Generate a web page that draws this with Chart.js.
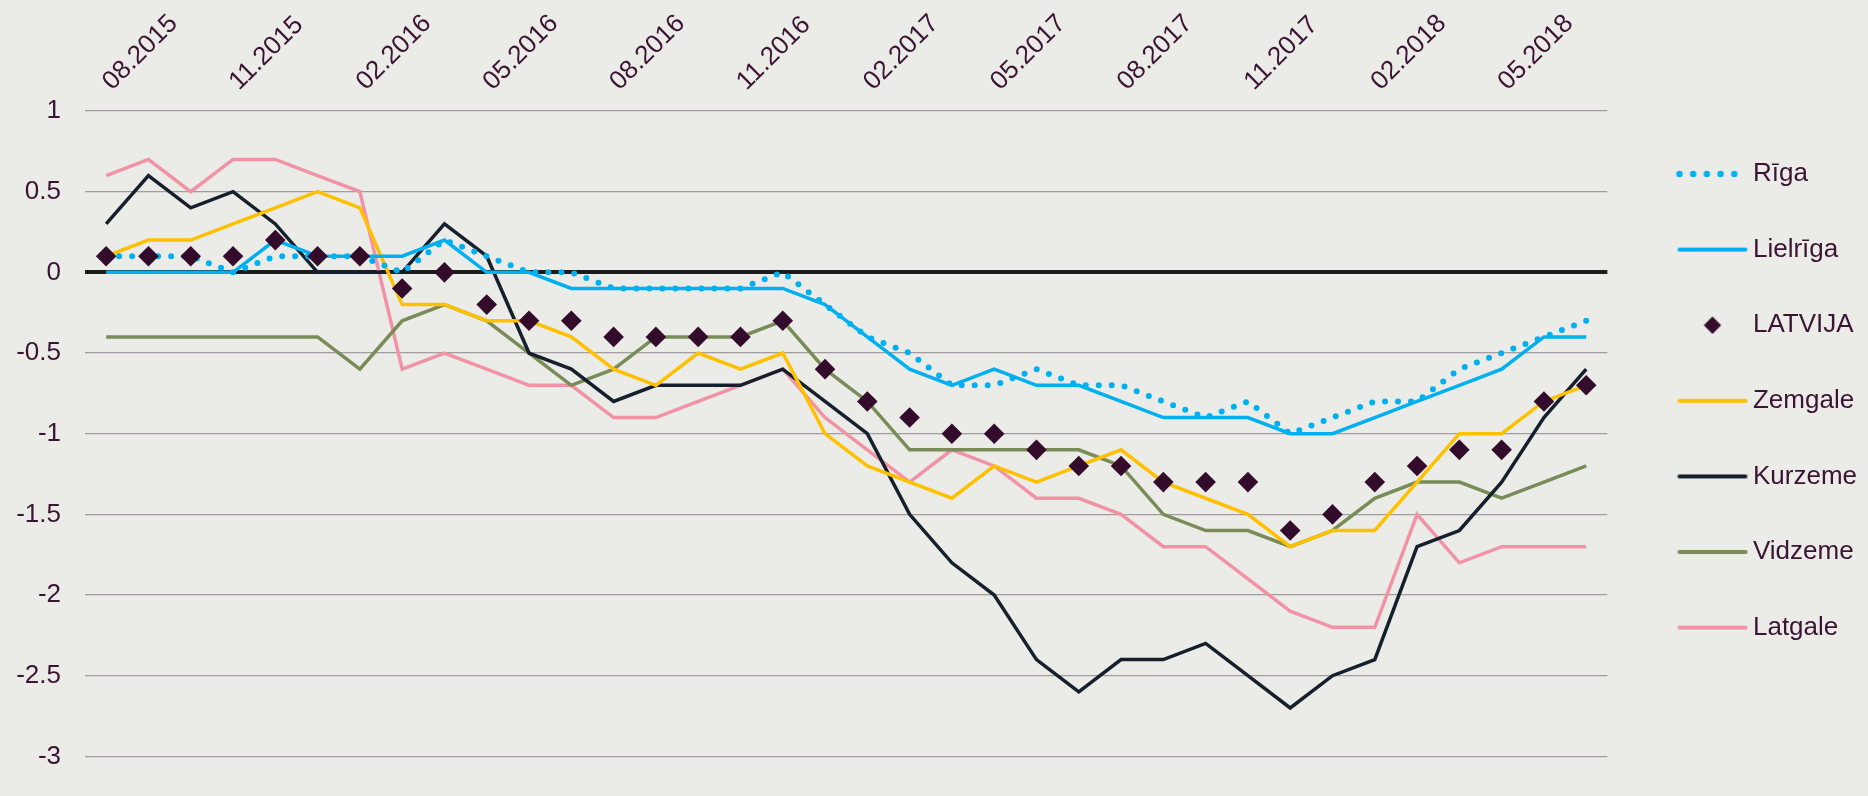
<!DOCTYPE html>
<html>
<head>
<meta charset="utf-8">
<script src="https://cdn.jsdelivr.net/npm/chart.js@4.4.0/dist/chart.umd.min.js"></script>
<style>
  body { margin: 0; background: #ebebe7; }
  #wrap { width: 1868px; height: 796px; }
</style>
</head>
<body>
<div id="wrap"><canvas id="regionChart"></canvas></div>
<script>
const months = [
  '08.2015', '09.2015', '10.2015', '11.2015', '12.2015', '01.2016',
  '02.2016', '03.2016', '04.2016', '05.2016', '06.2016', '07.2016',
  '08.2016', '09.2016', '10.2016', '11.2016', '12.2016', '01.2017',
  '02.2017', '03.2017', '04.2017', '05.2017', '06.2017', '07.2017',
  '08.2017', '09.2017', '10.2017', '11.2017', '12.2017', '01.2018',
  '02.2018', '03.2018', '04.2018', '05.2018', '06.2018', '07.2018'
];

const riga = [0.1, 0.1, 0.1, 0.0, 0.1, 0.1, 0.1, 0.0, 0.2, 0.1, 0.0, 0.0,
  -0.1, -0.1, -0.1, -0.1, 0.0, -0.2, -0.4, -0.5, -0.7, -0.7, -0.6, -0.7,
  -0.7, -0.8, -0.9, -0.8, -1.0, -0.9, -0.8, -0.8, -0.6, -0.5, -0.4, -0.3];
const lielriga = [0, 0, 0, 0, 0.2, 0.1, 0.1, 0.1, 0.2, 0, 0, -0.1,
  -0.1, -0.1, -0.1, -0.1, -0.1, -0.2, -0.4, -0.6, -0.7, -0.6, -0.7, -0.7,
  -0.8, -0.9, -0.9, -0.9, -1.0, -1.0, -0.9, -0.8, -0.7, -0.6, -0.4, -0.4];
const latvija = [0.1, 0.1, 0.1, 0.1, 0.2, 0.1, 0.1, -0.1, 0.0, -0.2, -0.3, -0.3,
  -0.4, -0.4, -0.4, -0.4, -0.3, -0.6, -0.8, -0.9, -1.0, -1.0, -1.1, -1.2,
  -1.2, -1.3, -1.3, -1.3, -1.6, -1.5, -1.3, -1.2, -1.1, -1.1, -0.8, -0.7];
const zemgale = [0.1, 0.2, 0.2, 0.3, 0.4, 0.5, 0.4, -0.2, -0.2, -0.3, -0.3, -0.4,
  -0.6, -0.7, -0.5, -0.6, -0.5, -1.0, -1.2, -1.3, -1.4, -1.2, -1.3, -1.2,
  -1.1, -1.3, -1.4, -1.5, -1.7, -1.6, -1.6, -1.3, -1.0, -1.0, -0.8, -0.7];
const kurzeme = [0.3, 0.6, 0.4, 0.5, 0.3, 0, 0, 0, 0.3, 0.1, -0.5, -0.6,
  -0.8, -0.7, -0.7, -0.7, -0.6, -0.8, -1.0, -1.5, -1.8, -2.0, -2.4, -2.6,
  -2.4, -2.4, -2.3, -2.5, -2.7, -2.5, -2.4, -1.7, -1.6, -1.3, -0.9, -0.6];
const vidzeme = [-0.4, -0.4, -0.4, -0.4, -0.4, -0.4, -0.6, -0.3, -0.2, -0.3, -0.5, -0.7,
  -0.6, -0.4, -0.4, -0.4, -0.3, -0.6, -0.8, -1.1, -1.1, -1.1, -1.1, -1.1,
  -1.2, -1.5, -1.6, -1.6, -1.7, -1.6, -1.4, -1.3, -1.3, -1.4, -1.3, -1.2];
const latgale = [0.6, 0.7, 0.5, 0.7, 0.7, 0.6, 0.5, -0.6, -0.5, -0.6, -0.7, -0.7,
  -0.9, -0.9, -0.8, -0.7, -0.6, -0.9, -1.1, -1.3, -1.1, -1.2, -1.4, -1.4,
  -1.5, -1.7, -1.7, -1.9, -2.1, -2.2, -2.2, -1.5, -1.8, -1.7, -1.7, -1.7];

const textColor = '#3b1434';
const blue = '#00b0f0';
const diamondColor = '#330b2b';

Chart.defaults.font.family = "'Liberation Sans', Arial, sans-serif";
Chart.defaults.font.size = 26;
Chart.defaults.color = textColor;

// little legend pictures (dotted line, line, diamond)
function legendSample(kind, color) {
  const c = document.createElement('canvas');
  c.width = 104;
  c.height = 26;
  const g = c.getContext('2d');
  g.fillStyle = color;
  g.strokeStyle = color;
  if (kind === 'dots') {
    for (let i = 0; i < 5; i++) {
      g.beginPath();
      g.arc(33 + i * 13.7, 13, 3.2, 0, Math.PI * 2);
      g.fill();
    }
  } else if (kind === 'diamond') {
    g.beginPath();
    g.moveTo(66, 4.3);
    g.lineTo(74.7, 13);
    g.lineTo(66, 21.7);
    g.lineTo(57.3, 13);
    g.closePath();
    g.fill();
  } else {
    g.lineWidth = 4;
    g.lineCap = 'round';
    g.beginPath();
    g.moveTo(33, 13);
    g.lineTo(99, 13);
    g.stroke();
  }
  return c;
}

function lineSet(label, data, color) {
  return {
    label: label,
    data: data,
    borderColor: color,
    backgroundColor: color,
    borderWidth: 3.5,
    pointRadius: 0,
    pointHoverRadius: 0,
    tension: 0,
    fill: false
  };
}

const rigaSet = lineSet('Rīga', riga, blue);
rigaSet.borderWidth = 6;
rigaSet.borderDash = [0, 13];
rigaSet.borderCapStyle = 'round';

const latvijaSet = {
  label: 'LATVIJA',
  data: latvija,
  showLine: false,
  pointStyle: 'rectRot',
  pointRadius: 10.3,
  pointHoverRadius: 10.3,
  pointBorderWidth: 0,
  pointBackgroundColor: diamondColor,
  backgroundColor: diamondColor,
  borderColor: diamondColor,
  order: -1
};

const samples = [
  legendSample('dots', blue),
  legendSample('line', blue),
  legendSample('diamond', diamondColor),
  legendSample('line', '#ffc000'),
  legendSample('line', '#15202c'),
  legendSample('line', '#798c58'),
  legendSample('line', '#f193a4')
];

const ctx = document.getElementById('regionChart').getContext('2d');

new Chart(ctx, {
  type: 'line',
  data: {
    labels: months,
    datasets: [
      rigaSet,
      lineSet('Lielrīga', lielriga, blue),
      latvijaSet,
      lineSet('Zemgale', zemgale, '#ffc000'),
      lineSet('Kurzeme', kurzeme, '#15202c'),
      lineSet('Vidzeme', vidzeme, '#798c58'),
      lineSet('Latgale', latgale, '#f193a4')
    ]
  },
  options: {
    responsive: true,
    maintainAspectRatio: false,
    animation: false,
    events: [],
    layout: { padding: { top: 0, right: 1, bottom: 10, left: 0 } },
    scales: {
      x: {
        position: 'top',
        offset: true,
        grid: { display: false },
        border: { display: false },
        ticks: {
          autoSkip: false,
          minRotation: 45,
          maxRotation: 45,
          padding: 6,
          labelOffset: 23,
          color: textColor,
          callback: function (value, index) {
            return index % 3 === 0 ? this.getLabelForValue(value) : '';
          }
        },
        afterFit: (scale) => { scale.height = 111; }
      },
      y: {
        min: -3,
        max: 1,
        border: { display: false },
        grid: {
          drawTicks: false,
          color: (c) => (c.tick && c.tick.value === 0 ? '#1b1b1b' : '#a09ca0'),
          lineWidth: (c) => (c.tick && c.tick.value === 0 ? 4 : 1.3)
        },
        ticks: {
          stepSize: 0.5,
          padding: 24,
          color: textColor,
          callback: (v) => String(v)
        },
        afterFit: (scale) => { scale.width = 85; }
      }
    },
    plugins: {
      tooltip: { enabled: false },
      legend: {
        position: 'right',
        // empty title only pushes the items down a little
        title: {
          display: true,
          text: ' ',
          font: { size: 1, lineHeight: 1.2 },
          padding: { top: 7.2, bottom: 7.2 }
        },
        labels: {
          usePointStyle: true,
          pointStyleWidth: 83,
          padding: 49.6,
          color: textColor,
          font: { size: 26 },
          sort: (a, b) => a.datasetIndex - b.datasetIndex,
          generateLabels: (chart) => {
            const items = Chart.defaults.plugins.legend.labels.generateLabels(chart);
            items.forEach((item) => {
              item.pointStyle = samples[item.datasetIndex];
              item.fontColor = textColor;
            });
            return items;
          }
        }
      }
    }
  }
});
</script>
</body>
</html>
